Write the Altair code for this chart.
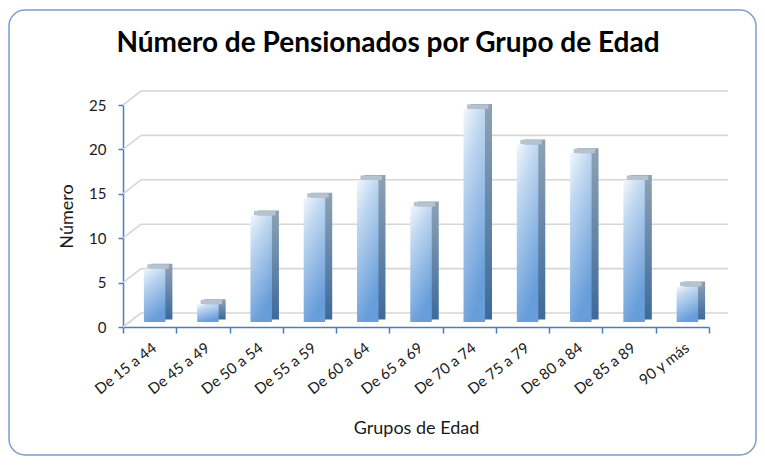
import altair as alt
import pandas as pd

TITLE = "Número de Pensionados por Grupo de Edad"
categories = ["De 15 a 44", "De 45 a 49", "De 50 a 54", "De 55 a 59", "De 60 a 64",
              "De 65 a 69", "De 70 a 74", "De 75 a 79", "De 80 a 84", "De 85 a 89", "90 y más"]
values = [6, 2, 12, 14, 16, 13, 24, 20, 19, 16, 4]
y_ticks = [0, 5, 10, 15, 20, 25]

W, H = 586, 222
FONT = "Lato"
AXIS_BLUE = "#4a7ebb"

bars = pd.DataFrame({"grupo": categories, "valor": values})
grid = pd.DataFrame({"g": y_ticks})
one_row = pd.DataFrame({"t": [TITLE]})

xscale = alt.Scale(domain=categories, paddingInner=0, paddingOuter=0)
yscale = alt.Scale(domain=[0, 25], nice=False)

xaxis = alt.Axis(
    title="Grupos de Edad", titleFont=FONT, titleFontSize=18, titleFontWeight="normal",
    titleColor="#1a1a1a", titlePadding=23,
    labelFont=FONT, labelFontSize=15, labelColor="#1a1a1a", labelAngle=-38,
    labelAlign="right", labelBaseline="top", labelPadding=7,
    domainColor=AXIS_BLUE, domainWidth=1.5, tickColor=AXIS_BLUE, tickWidth=1.5,
    tickSize=6, tickBand="extent", grid=False,
)
yaxis = alt.Axis(
    title="Número", titleFont=FONT, titleFontSize=18, titleFontWeight="normal",
    titleColor="#1a1a1a", titlePadding=12,
    labelFont=FONT, labelFontSize=15, labelColor="#1a1a1a", labelPadding=12,
    values=y_ticks, domainColor=AXIS_BLUE, domainWidth=1.5, tickColor=AXIS_BLUE,
    tickWidth=1.5, tickSize=5, grid=False,
)

X = alt.X("grupo:N", sort=categories, scale=xscale, axis=xaxis)
Y = alt.Y("valor:Q", scale=yscale, axis=yaxis)

GRID_COLOR = "#d6d6d6"
back_grid = alt.Chart(grid).mark_rule(
    color=GRID_COLOR, strokeWidth=1.6, yOffset=-14, y2Offset=-14
).encode(
    y=alt.Y("g:Q", scale=yscale, axis=yaxis), y2="g:Q",
    x=alt.value(18), x2=alt.value(605),
)
side_grid = alt.Chart(grid).mark_rule(
    color=GRID_COLOR, strokeWidth=1.6, y2Offset=-14
).encode(
    y=alt.Y("g:Q", scale=yscale, axis=yaxis), y2="g:Q",
    x=alt.value(0), x2=alt.value(18),
)

front_grad = alt.LinearGradient(
    gradient="linear", x1=0, y1=0, x2=0.35, y2=1,
    stops=[alt.GradientStop(offset=0, color="#f2f7fd"),
           alt.GradientStop(offset=0.3, color="#c0d7f0"),
           alt.GradientStop(offset=1, color="#679dd9")],
)
side_grad = alt.LinearGradient(
    gradient="linear", x1=0, y1=0, x2=0, y2=1,
    stops=[alt.GradientStop(offset=0, color="#8ea2b6"),
           alt.GradientStop(offset=1, color="#3d6a9a")],
)

BW = 21.5
side = alt.Chart(bars).mark_bar(
    color=side_grad, width=BW, xOffset=12, yOffset=-10, y2Offset=-7.5
).encode(x=X, y=Y, y2=alt.datum(0))
top = alt.Chart(bars).mark_bar(
    color="#b8c2cd", width=BW, xOffset=8.5, yOffset=-9.5, y2Offset=-5
).encode(x=X, y=Y, y2="valor:Q")
front = alt.Chart(bars).mark_bar(
    color=front_grad, width=BW, xOffset=5, yOffset=-5, y2Offset=-5
).encode(x=X, y=Y, y2=alt.datum(0))

frame = alt.Chart(one_row).mark_rect(
    filled=False, stroke="#7b9dd0", strokeWidth=1.5, cornerRadius=16
).encode(
    x=alt.value(-114), x2=alt.value(633), y=alt.value(-95), y2=alt.value(350),
)

title = alt.Chart(one_row).mark_text(
    font=FONT, fontSize=28, fontWeight="bold", color="#000000",
    align="center", baseline="alphabetic",
).encode(text="t:N", x=alt.value(265), y=alt.value(-53))

chart = alt.layer(frame, title, side_grid, back_grid, side, top, front).properties(
    width=W, height=H,
    view=alt.ViewBackground(stroke="transparent", strokeWidth=0),
    autosize=alt.AutoSizeParams(type="none"),
    padding={"left": 115, "top": 97, "right": 48, "bottom": 130},
).configure_view(strokeWidth=0, stroke="transparent").configure(background="white")

chart.save("out.html", embed_options={"renderer": "svg", "actions": False})
